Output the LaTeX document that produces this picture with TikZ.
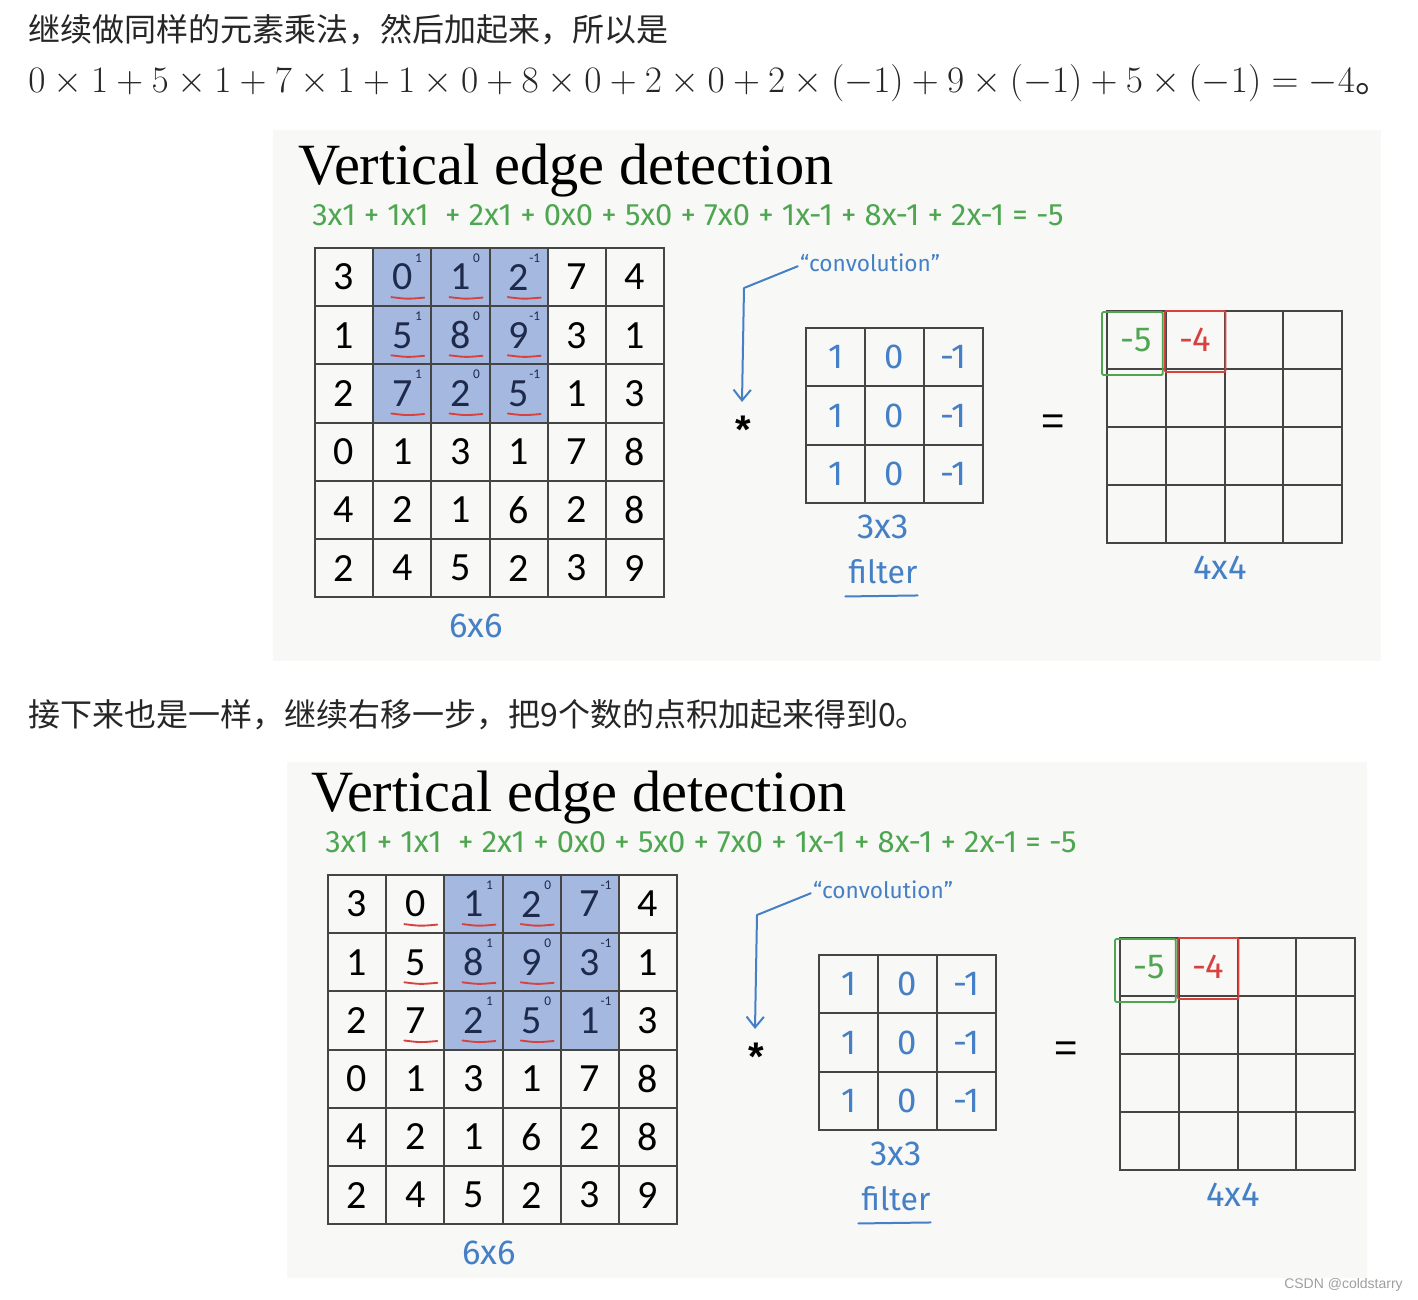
\RequirePackage{fix-cm}
\documentclass[tikz,border=0pt]{standalone}
\usepackage{fontspec}
\usepackage{amsmath}
\usetikzlibrary{arrows.meta,calc}
\newfontfamily\cjk{Noto Sans CJK SC}
\newfontfamily\slidefont{Liberation Serif}
\newfontfamily\cellfont{Carlito}
\newfontfamily\handfont{Fira Sans}
\newfontfamily\uifont{Liberation Sans}
\definecolor{txt}{HTML}{262626}
\definecolor{panelbg}{HTML}{F8F8F7}
\definecolor{gridc}{HTML}{454545}
\definecolor{winbg}{HTML}{A5B8E0}
\definecolor{windark}{HTML}{1E2A4C}
\definecolor{handblue}{HTML}{4580C6}
\definecolor{handgreen}{HTML}{4FA651}
\definecolor{handred}{HTML}{D8423E}
\tikzset{
  >={Straight Barb[length=8pt,width=13pt]},
  panel/.style={fill=panelbg,draw=none},
  cell/.style={draw=gridc,line width=1.5pt,minimum width=43.65pt,minimum height=43.65pt,inner sep=0pt,font=\cellfont\fontsize{30}{30}\selectfont},
  plain/.style={text=black},
  win/.style={fill=winbg,text=windark},
  wlab/.style={inner sep=0pt,text=windark,font=\cellfont\fontsize{10}{10}\selectfont},
  ul/.style={draw=handred,line width=1.4pt,line cap=round},
  fcell/.style={draw=gridc,line width=1.5pt,minimum width=44.25pt,minimum height=43.7pt,inner sep=0pt,text=handblue,font=\handfont\fontsize{26}{26}\selectfont},
  ocell/.style={draw=gridc,line width=1.5pt,minimum width=44.05pt,minimum height=43.5pt,inner sep=0pt},
  hand/.style={inner sep=0pt,text=handblue,font=\handfont\fontsize{26}{26}\selectfont},
  hline/.style={draw=handblue,line width=1.5pt,line cap=round,line join=round},
}
\begin{document}
\begin{tikzpicture}[x=0.75pt,y=-0.75pt]
\useasboundingbox[fill=white] (0,0) rectangle (1418,1300);
% blog text
\node[anchor=base west,inner sep=0pt,text=txt,font=\cjk\fontsize{24}{28}\selectfont] (intro) at (28,41) {继续做同样的元素乘法，然后加起来，所以是};
\node[anchor=base west,inner sep=0pt,text=txt,font=\fontsize{28}{32}\selectfont] (eq) at (28,92)
  {$0\times1+5\times1+7\times1+1\times0+8\times0+2\times0+2\times(-1)+9\times(-1)+5\times(-1)=-4${\cjk 。}};
\node[anchor=base west,inner sep=0pt,text=txt,font=\cjk\fontsize{24}{28}\selectfont] (next) at (28,726) {接下来也是一样，继续右移一步，把9个数的点积加起来得到0。};
\node[anchor=base east,inner sep=0pt,text=gray!75,font=\uifont\fontsize{10.5}{12}\selectfont] (mark) at (1403,1288) {CSDN @coldstarry};
% slide backgrounds
\fill[panel] (273,130) rectangle (1381,661);
\fill[panel] (287,762) rectangle (1367,1278);
% the two slides
\foreach \s/\dx/\dy/\k in {A/0/0/1,B/13/627/2}{
\begin{scope}[shift={(\dx,\dy)},name prefix=\s-]
\node[anchor=base west,inner sep=0pt,font=\slidefont\fontsize{43.8}{44}\selectfont] (title) at (298,184) {Vertical edge detection};
\node[anchor=west,inner sep=0pt,text=handgreen,font=\handfont\fontsize{23.2}{24}\selectfont] (sum) at (312,215)
  {3x1 + 1x1 \ + 2x1 + 0x0 + 5x0 + 7x0 + 1x-1 + 8x-1 + 2x-1 = -5};
% 6x6 input
\foreach [count=\r from 0] \row in {{3,0,1,2,7,4},{1,5,8,9,3,1},{2,7,2,5,1,3},{0,1,3,1,7,8},{4,2,1,6,2,8},{2,4,5,2,3,9}}{
  \foreach [count=\c from 0] \v in \row {
    \pgfmathtruncatemacro\inwin{(\r<3)&&(\c>=\k)&&(\c<=\k+2)}
    \ifnum\inwin=1 \def\cs{win}\else\def\cs{plain}\fi
    \node[cell,\cs] (m\r\c) at ({344.1+58.2*\c},{277.1+58.2*\r}) {\v};
  }
}
% filter weights in the window
\foreach \c/\w in {0/1,1/0,2/-1}{
  \foreach \r in {0,1,2}{
    \pgfmathtruncatemacro\cc{\k+\c}
    \node[wlab] (w\r\c) at ($(m\r\cc.north east)+(-14,11)$) {\w};
  }
}
% red marks
\foreach \r in {0,1,2}{
  \foreach \c in {1,2,3}{
    \draw[ul] ($(m\r\c)+(-11,20)$) .. controls ($(m\r\c)+(5,22)$) .. ($(m\r\c)+(22,20.5)$);
  }
}
\node[hand] (six) at (476,626) {6x6};
% filter
\foreach \r in {0,1,2}{
  \foreach [count=\c from 0] \v in {1,0,-1}{
    \node[fcell] (f\r\c) at ({835.5+59*\c},{357.2+58.3*\r}) {\v};
  }
}
\node[hand] (three) at (883,527) {3x3};
\node[hand,font=\handfont\fontsize{24}{24}\selectfont] (filt) at (883,572) {filter};
\draw[hline] ($(filt.south west)+(-3,12)$) -- ($(filt.south east)+(0,11)$);
\node[hand,font=\handfont\fontsize{17}{17}\selectfont] (conv) at (870,263) {“convolution”};
\node[inner sep=0pt,font=\uifont\bfseries\fontsize{30}{30}\selectfont] (star) at (743,430) {*};
\coordinate (bend) at (744,288);
\draw[hline,->] ($(conv.south west)+(-2,-6)$) -- (bend) -- ($(star.north)+(-1,-14)$);
\node[inner sep=0pt,font=\uifont\fontsize{30}{30}\selectfont] (eqs) at (1053,425) {=};
% 4x4 output
\foreach \r in {0,...,3}{
  \foreach \c in {0,...,3}{
    \node[ocell] (o\r\c) at ({1136.4+58.75*\c},{340+58*\r}) {};
  }
}
\node[hand,text=handgreen] (m5) at (o00) {-5};
\node[hand,text=handred] (m4) at (o01) {-4};
\draw[draw=handgreen,line width=1.4pt,rounded corners=1pt] ($(o00.north west)+(-4,2)$) rectangle ($(o00.south east)+(-4,5)$);
\draw[draw=handred,line width=1.4pt,rounded corners=1pt] ($(o01.north west)+(0,1)$) rectangle ($(o01.south east)+(0,2)$);
\node[hand] (four) at (1220,568) {4x4};
\end{scope}
}
\end{tikzpicture}
\end{document}
